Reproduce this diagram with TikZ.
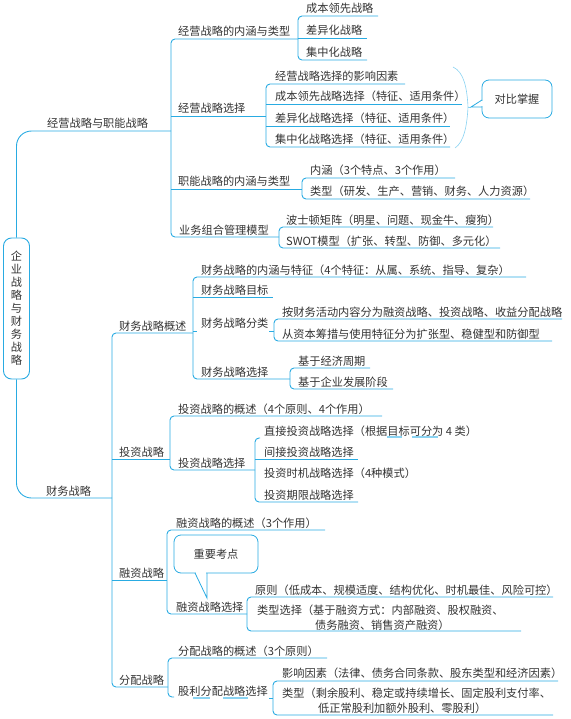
\documentclass[tikz,border=0pt]{standalone}
\usepackage{fontspec}
\setmainfont{Noto Sans CJK SC}
\definecolor{ln}{HTML}{29ABE2}
\definecolor{lt}{HTML}{8AD3F2}
\definecolor{tx}{HTML}{333333}
\begin{document}
\begin{tikzpicture}[x=1pt,y=-1pt,
  ln/.style={draw=ln,line width=0.9pt},
  br/.style={ln,rounded corners=4},
  hl/.style={draw=lt,line width=1.2pt},
  tp/.style={anchor=base west,inner sep=0pt,text=tx,font=\fontsize{11.2}{13}\selectfont},
  callbox/.style={draw=ln,line width=0.8pt,rounded corners=7,fill=white,inner sep=0pt,text=tx,font=\fontsize{11.2}{13}\selectfont},
]
\useasboundingbox (0,0) rectangle (570,719);

% root
\node[draw=ln,line width=0.9pt,rounded corners=8,minimum width=26pt,minimum height=141pt,inner sep=0pt,align=center,text=tx,font=\fontsize{11.2}{13}\selectfont] (root) at (16.5,308.5) {企\\业\\战\\略\\与\\财\\务\\战\\略};
\draw[ln,rounded corners=15] (root.north) |- (171,131);
\draw[ln,rounded corners=15] (root.south) |- (112,498);

% ---------- upper half ----------
\draw[br] (298,39) -- (171,39) -- (171,237) -- (279,237);
\draw[ln] (171,116) -- (266,116);
\draw[ln] (171,189) -- (302,189);

\draw[br] (378,16) -- (298,16) -- (298,60) -- (367,60);
\draw[ln] (298,38) -- (367,38);

\draw[br] (405,84) -- (266,84) -- (266,147) -- (450,147);
\draw[ln] (266,104) -- (462,104);
\draw[ln] (266,126) -- (450,126);

\draw[br] (455,178) -- (302,178) -- (302,199) -- (530,199);
\draw[br] (493,227) -- (279,227) -- (279,248) -- (500,248);

\node[tp] (t0) at (47,128) {经营战略与职能战略};
\node[tp] (a1) at (178,36) {经营战略的内涵与类型};
\node[tp] (a2) at (178,113) {经营战略选择};
\node[tp] (a3) at (178,186) {职能战略的内涵与类型};
\node[tp] (a4) at (179,234) {业务组合管理模型};

\node[tp] (b1) at (306,13) {成本领先战略};
\node[tp] (b2) at (306,35) {差异化战略};
\node[tp] (b3) at (306,57) {集中化战略};

\node[tp] (s1) at (275,81) {经营战略选择的影响因素};
\node[tp] (s2) at (275,101) {成本领先战略选择（特征、适用条件）};
\node[tp] (s3) at (275,123) {差异化战略选择（特征、适用条件）};
\node[tp] (s4) at (275,144) {集中化战略选择（特征、适用条件）};

\node[tp] (f1) at (310,175) {内涵（3个特点、3个作用）};
\node[tp] (f2) at (310,196) {类型（研发、生产、营销、财务、人力资源）};

\node[tp] (m1) at (286,224) {波士顿矩阵（明星、问题、现金牛、瘦狗）};
\node[tp] (m2) at (286,245) {SWOT模型（扩张、转型、防御、多元化）};

% brace + callout 对比掌握
\draw[draw=lt,line width=0.6pt] (453,67) .. controls (464,72) and (467,88) .. (468,107) .. controls (467,126) and (464,142) .. (455,148);
\draw[draw=lt,line width=0.6pt] (468,107) -- (471,107);
\node[callbox,minimum width=70pt,minimum height=38pt] (db) at (517,99) {对比掌握};
\draw[ln,line width=0.8pt] (482,100) -- (471,107) -- (482,107);
\draw[white,line width=1.4pt] (482,100.8) -- (482,106.2);

% ---------- lower half ----------
\node[tp] (t1) at (46,495) {财务战略};
\draw[br] (193,333) -- (112,333) -- (112,687) -- (168,687);
\draw[ln] (112,459) -- (170,459);
\draw[ln] (112,580) -- (167,580);

\node[tp] (c1) at (119,330) {财务战略概述};
\node[tp] (c2) at (119,456) {投资战略};
\node[tp] (c3) at (119,577) {融资战略};
\node[tp] (c4) at (119,684) {分配战略};

% 财务战略概述
\draw[br] (526,277) -- (193,277) -- (193,379) -- (290,379);
\draw[ln] (193,297) -- (273,297);
\draw[ln] (193,331) -- (197,331);
\draw[ln] (269,331) -- (274,331);
\draw[br] (562,319) -- (274,319) -- (274,341) -- (552,341);
\draw[br] (370,368) -- (290,368) -- (290,389) -- (393,389);

\node[tp] (d1) at (201,274) {财务战略的内涵与特征（4个特征：从属、系统、指导、复杂）};
\node[tp] (d2) at (201,294) {财务战略目标};
\node[tp] (d3) at (201,327) {财务战略分类};
\node[tp] (d4) at (201,376) {财务战略选择};
\node[tp] (e1) at (282,316) {按财务活动内容分为融资战略、投资战略、收益分配战略};
\node[tp] (e2) at (282,338) {从资本筹措与使用特征分为扩张型、稳健型和防御型};
\node[tp] (g1) at (298,365) {基于经济周期};
\node[tp] (g2) at (298,386) {基于企业发展阶段};

% 投资战略
\draw[br] (382,416) -- (170,416) -- (170,470) -- (255,470);
\draw[br] (260,438) -- (255,438) -- (255,502) -- (358,502);
\draw[ln] (255,459) -- (358,459);
\draw[hl] (387,437) -- (402,437);
\draw[hl] (412,437) -- (438,437);

\node[tp] (i1) at (178,413) {投资战略的概述（4个原则、4个作用）};
\node[tp] (i2) at (178,467) {投资战略选择};
\node[tp] (j1) at (264,435) {直接投资战略选择（根据目标可分为 4 类）};
\node[tp] (j2) at (264,456) {间接投资战略选择};
\node[tp] (j3) at (264,477) {投资时机战略选择（4种模式）};
\node[tp] (j4) at (264,499) {投资期限战略选择};

% 融资战略
\draw[br] (325,530) -- (167,530) -- (167,614) -- (247,614);
\draw[br] (553,597) -- (247,597) -- (247,631) -- (521,631);

\node[tp] (r1) at (176,527) {融资战略的概述（3个作用）};
\node[tp] (r2) at (176,611) {融资战略选择};
\node[tp] (k1) at (255,594) {原则（低成本、规模适度、结构优化、时机最佳、风险可控）};
\node[tp] (k2) at (257,614) {类型选择（基于融资方式：内部融资、股权融资、};
\node[tp] (k3) at (315,629) {债务融资、销售资产融资）};

\node[callbox,minimum width=84pt,minimum height=38pt] (kd) at (216,554) {重要考点};
\draw[ln,line width=0.8pt] (195,573) -- (207,598) -- (207,573);
\draw[white,line width=1.4pt] (195.8,573) -- (206.2,573);

% 分配战略
\draw[br] (327,658) -- (168,658) -- (168,697) -- (174,697);
\draw[hl] (193,698) -- (210,698);
\draw[hl] (223,698) -- (248,698);
\draw[ln] (269,698) -- (273,698);
\draw[br] (558,681) -- (273,681) -- (273,715) -- (553,715);

\node[tp] (p1) at (178,655) {分配战略的概述（3个原则）};
\node[tp] (p2) at (178,695) {股利分配战略选择};
\node[tp] (q1) at (282,677) {影响因素（法律、债务合同条款、股东类型和经济因素）};
\node[tp] (q2) at (282,697) {类型（剩余股利、稳定或持续增长、固定股利支付率、};
\node[tp] (q3) at (318,712) {低正常股利加额外股利、零股利）};
\end{tikzpicture}
\end{document}
